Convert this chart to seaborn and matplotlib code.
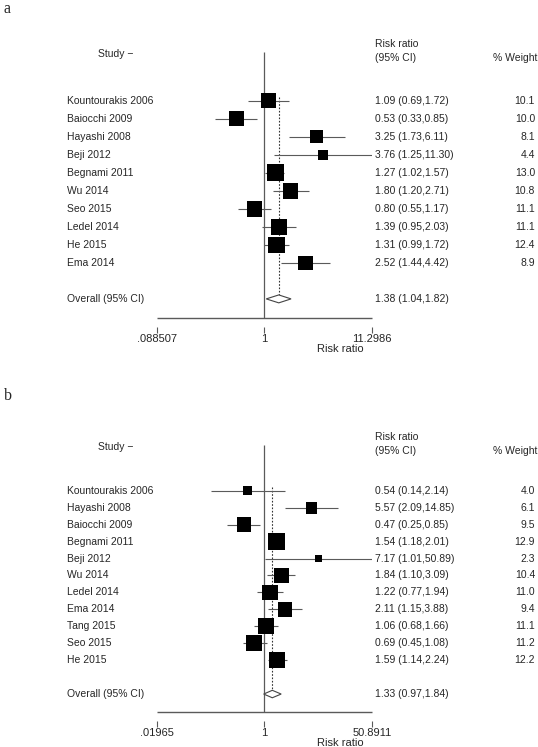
import numpy as np
import pandas as pd
import matplotlib
matplotlib.use("Agg")
import matplotlib.pyplot as plt
import seaborn as sns
from matplotlib.ticker import NullLocator
from matplotlib.transforms import blended_transform_factory

# Panel a data
studies_a = ["Kountourakis 2006", "Baiocchi 2009", "Hayashi 2008", "Beji 2012", "Begnami 2011",
             "Wu 2014", "Seo 2015", "Ledel 2014", "He 2015", "Ema 2014"]
rr_a = [1.09, 0.53, 3.25, 3.76, 1.27, 1.80, 0.80, 1.39, 1.31, 2.52]
lo_a = [0.69, 0.33, 1.73, 1.25, 1.02, 1.20, 0.55, 0.95, 0.99, 1.44]
hi_a = [1.72, 0.85, 6.11, 11.30, 1.57, 2.71, 1.17, 2.03, 1.72, 4.42]
weight_a = [10.1, 10.0, 8.1, 4.4, 13.0, 10.8, 11.1, 11.1, 12.4, 8.9]
overall_a = [1.38, 1.04, 1.82]
ticks_a = [0.088507, 1, 11.2986]
ticklabels_a = [".088507", "1", "11.2986"]

# Panel b data
studies_b = ["Kountourakis 2006", "Hayashi 2008", "Baiocchi 2009", "Begnami 2011", "Beji 2012",
             "Wu 2014", "Ledel 2014", "Ema 2014", "Tang 2015", "Seo 2015", "He 2015"]
rr_b = [0.54, 5.57, 0.47, 1.54, 7.17, 1.84, 1.22, 2.11, 1.06, 0.69, 1.59]
lo_b = [0.14, 2.09, 0.25, 1.18, 1.01, 1.10, 0.77, 1.15, 0.68, 0.45, 1.14]
hi_b = [2.14, 14.85, 0.85, 2.01, 50.89, 3.09, 1.94, 3.88, 1.66, 1.08, 2.24]
weight_b = [4.0, 6.1, 9.5, 12.9, 2.3, 10.4, 11.0, 9.4, 11.1, 11.2, 12.2]
overall_b = [1.33, 0.97, 1.84]
ticks_b = [0.01965, 1, 50.8911]
ticklabels_b = [".01965", "1", "50.8911"]

sns.set_theme(style="white")
plt.rcParams["font.family"] = ["Liberation Sans", "DejaVu Sans"]

W, H = 538, 747
fig = plt.figure(figsize=(W / 100, H / 100), dpi=100)
gray = "#5a5a5a"
fs = 7.5


def draw_panel(letter, letter_px, top_px, line_px, studies, rr, lo, hi, weight, overall, ticks, ticklabels):
    n = len(studies)
    ytop = -2.7
    y_overall = n + 1
    y_axis = n + 2.06
    ppr = (line_px - top_px) / (y_axis - ytop)
    bottom_px = line_px + 9
    ybot = y_axis + 9 / ppr

    ax = fig.add_axes([157 / W, 1 - bottom_px / H, (372 - 157) / W, (bottom_px - top_px) / H])
    ax.set_xscale("log")
    ax.set_xlim(ticks[0], ticks[-1])
    ax.set_ylim(ybot, ytop)
    ax.patch.set_visible(False)

    df = pd.DataFrame({"study": studies, "rr": rr, "lo": lo, "hi": hi,
                       "weight": weight, "row": np.arange(n)})

    # confidence intervals and weighted squares
    ax.hlines(df["row"], df["lo"], df["hi"], color=gray, lw=0.8, zorder=2)
    sns.scatterplot(data=df, x="rr", y="row", size="weight", size_norm=(0, 20),
                    sizes=(0, 11.5 * 20), marker="s", color="black", linewidth=0,
                    legend=False, ax=ax, zorder=3)

    # null line, pooled estimate, diamond
    ax.vlines(1, ytop, y_axis, color=gray, lw=0.9, zorder=1)
    est, l, h = overall
    ax.vlines(est, -0.2, y_overall - 0.22, color="#333333", lw=0.8,
              linestyles=(0, (1.5, 1.5)), zorder=1)
    ax.fill([l, est, h, est], [y_overall, y_overall - 0.22, y_overall, y_overall + 0.22],
            facecolor="white", edgecolor="#444444", lw=0.8, zorder=4)

    # x axis line drawn separately so ticks sit below it
    ax.hlines(y_axis, ticks[0], ticks[-1], color=gray, lw=1, clip_on=False)
    for s in ax.spines.values():
        s.set_visible(False)
    ax.set_xticks(ticks)
    ax.set_xticklabels(ticklabels)
    ax.xaxis.set_minor_locator(NullLocator())
    ax.tick_params(axis="x", bottom=True, length=4, width=0.8, color=gray, labelsize=8, pad=1)
    ax.set_yticks([])
    ax.set_xlabel("")
    ax.set_ylabel("")

    trans = blended_transform_factory(fig.transFigure, ax.transData)
    for i in range(n):
        ax.text(67 / W, i, studies[i], transform=trans, ha="left", va="center", fontsize=fs)
        ax.text(375 / W, i, f"{rr[i]:.2f} ({lo[i]:.2f},{hi[i]:.2f})", transform=trans,
                ha="left", va="center", fontsize=fs)
        ax.text(535 / W, i, f"{weight[i]:.1f}", transform=trans, ha="right", va="center", fontsize=fs)
    ax.text(67 / W, y_overall, "Overall (95% CI)", transform=trans, ha="left", va="center", fontsize=fs)
    ax.text(375 / W, y_overall, f"{est:.2f} ({l:.2f},{h:.2f})", transform=trans,
            ha="left", va="center", fontsize=fs)

    # column headers
    ax.text(98 / W, -2.6, "Study \u2212", transform=trans, ha="left", va="center", fontsize=fs)
    ax.text(375 / W, -3.15, "Risk ratio", transform=trans, ha="left", va="center", fontsize=fs)
    ax.text(375 / W, -2.35, "(95% CI)", transform=trans, ha="left", va="center", fontsize=fs)
    ax.text(537 / W, -2.35, "% Weight", transform=trans, ha="right", va="center", fontsize=fs)

    fig.text(340 / W, 1 - (line_px + 31) / H, "Risk ratio", ha="center", va="center", fontsize=8)
    fig.text(4 / W, 1 - letter_px / H, letter, ha="left", va="center", fontsize=11.5,
             family=["Liberation Serif", "DejaVu Serif"])


draw_panel("a", 9, 52, 318, studies_a, rr_a, lo_a, hi_a, weight_a, overall_a, ticks_a, ticklabels_a)
draw_panel("b", 396, 445, 712, studies_b, rr_b, lo_b, hi_b, weight_b, overall_b, ticks_b, ticklabels_b)

fig.savefig("out.png", dpi=100, facecolor="white")
